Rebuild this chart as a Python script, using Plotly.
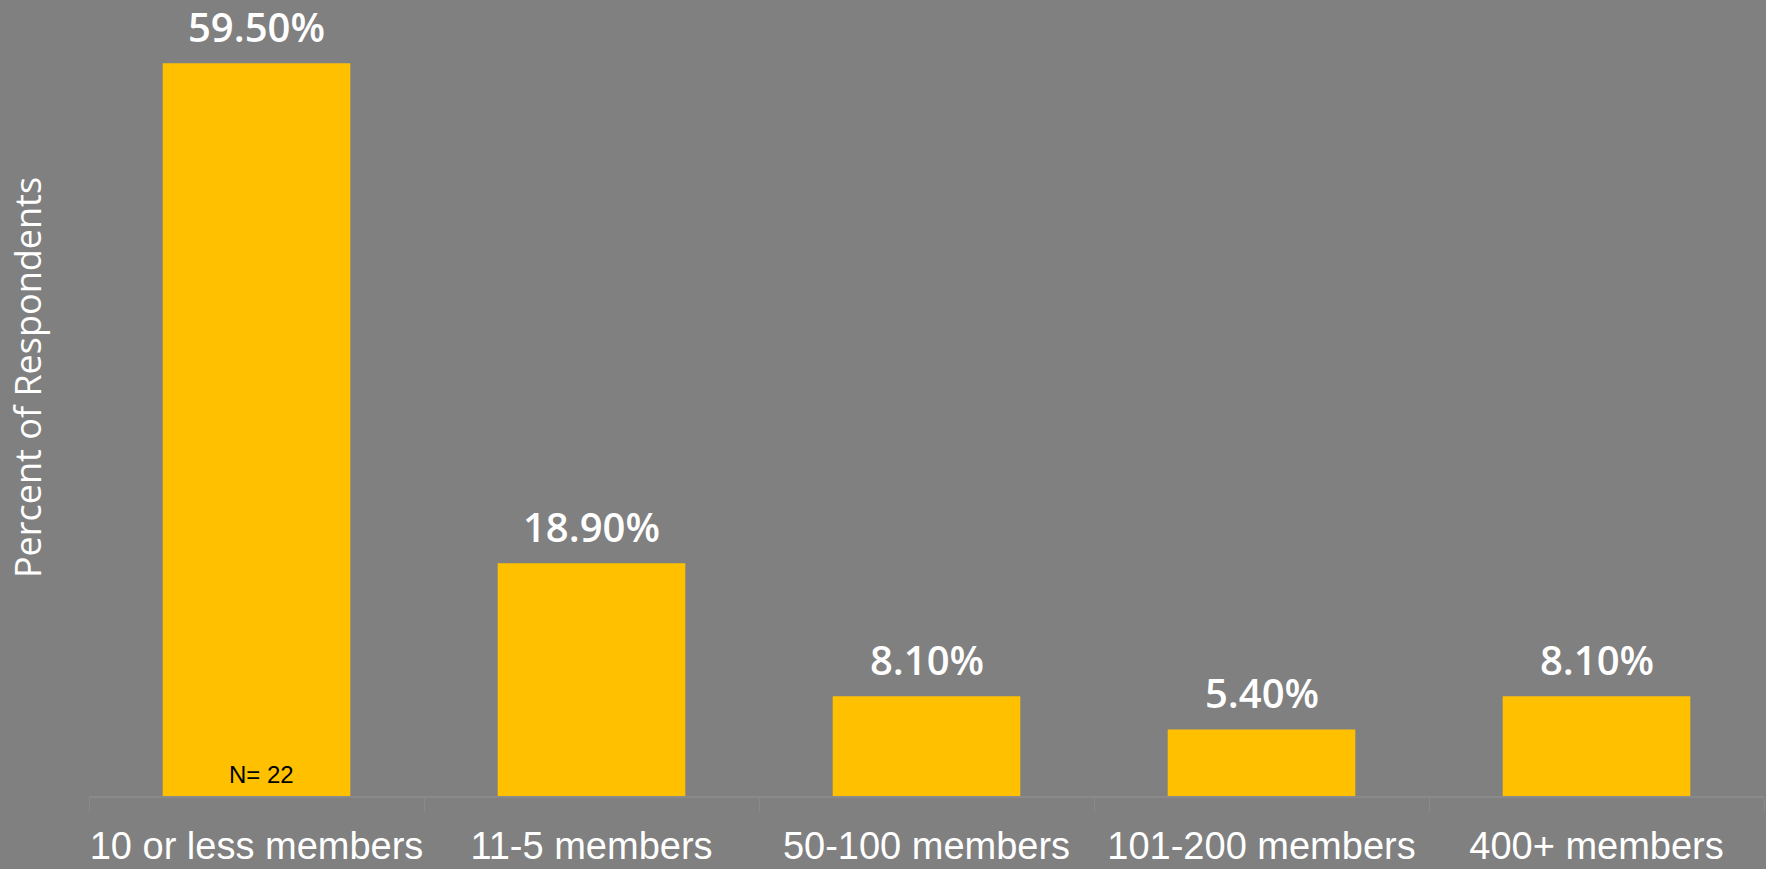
import plotly.graph_objects as go

# Survey data: team size vs. share of respondents
categories = ["10 or less members", "11-5 members", "50-100 members",
              "101-200 members", "400+ members"]
percent = [59.5, 18.9, 8.1, 5.4, 8.1]
sample_note = "N= 22"
y_title = "Percent of Respondents"

BG = "#808080"
BAR = "#FFC000"
AXIS = "#8a8a8a"
NARROW = "Liberation Sans Narrow, Arial Narrow, Liberation Sans, sans-serif"
HUMANIST = "Open Sans, sans-serif"

fig = go.Figure(
    go.Bar(
        x=categories,
        y=percent,
        marker=dict(color=BAR, line=dict(width=0)),
        hoverinfo="skip",
    )
)

# value labels above each bar
for cat, val in zip(categories, percent):
    fig.add_annotation(
        x=cat, y=val, xref="x", yref="y",
        text=f"{val:.2f}%",
        showarrow=False,
        yanchor="bottom",
        yshift=7,
        font=dict(family=HUMANIST, size=40, color="white", weight=600),
    )

# sample size note inside the first bar
fig.add_annotation(
    x=categories[0], y=0, xref="x", yref="y",
    text=sample_note,
    showarrow=False,
    yanchor="bottom",
    xshift=5, yshift=6,
    font=dict(family=NARROW, size=24, color="black"),
)

# vertical axis title
fig.add_annotation(
    x=-0.0370, y=0.5656, xref="paper", yref="paper",
    text=y_title,
    showarrow=False,
    textangle=-90,
    xanchor="center", yanchor="middle",
    font=dict(family=HUMANIST, size=36, color="white"),
)

fig.update_layout(
    width=1766, height=869,
    margin=dict(l=89, r=2, t=57, b=73, autoexpand=False),
    paper_bgcolor=BG, plot_bgcolor=BG,
    showlegend=False,
    bargap=0.44,
    xaxis=dict(
        type="category",
        range=[-0.5, len(categories) - 0.5],
        automargin=False,
        tickangle=0,
        showline=True, linecolor=AXIS, linewidth=2,
        ticks="outside", tickson="boundaries", ticklen=14,
        tickcolor=AXIS, tickwidth=1,
        showgrid=False, zeroline=False,
        tickfont=dict(family=NARROW, size=38, color="white"),
        ticklabelstandoff=15,
    ),
    yaxis=dict(
        range=[0, 60],
        visible=False,
        showgrid=False, zeroline=False,
    ),
)

fig.write_html("out.html")
